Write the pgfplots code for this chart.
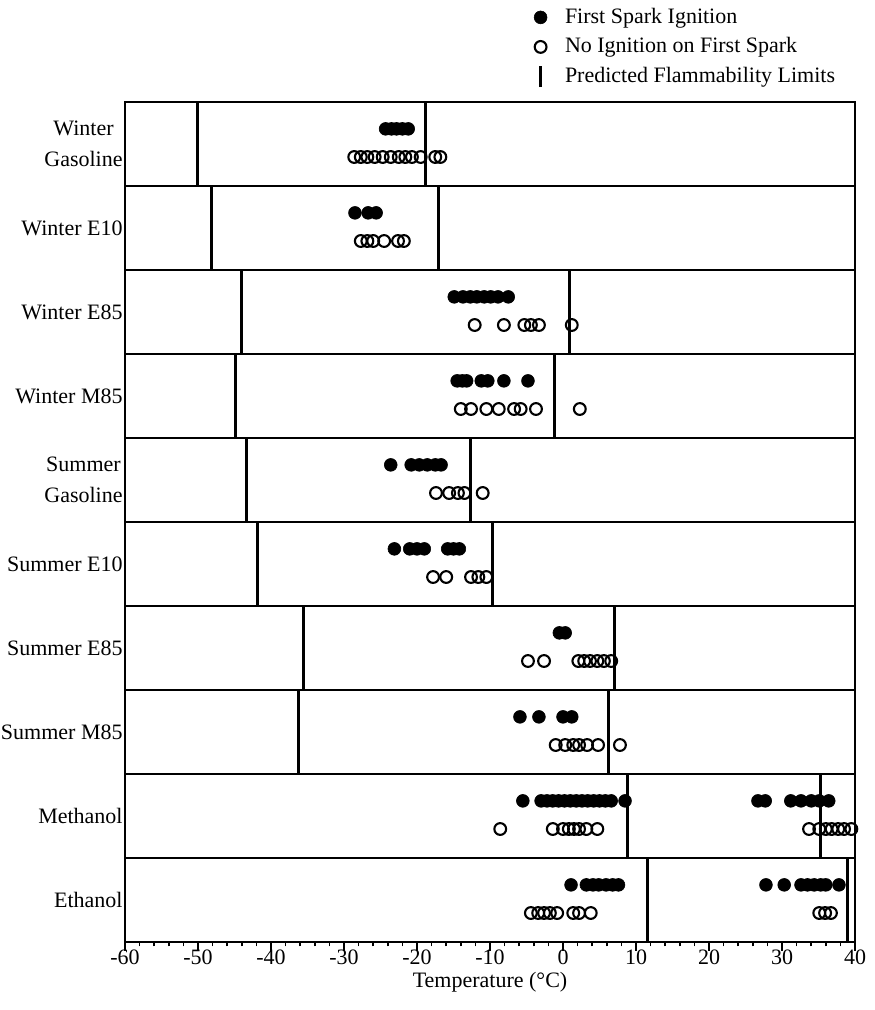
\documentclass[border=0pt]{standalone}
\usepackage{fontspec}
\setmainfont{Liberation Serif}
\usepackage{pgfplots}
\pgfplotsset{compat=1.18}
\begin{document}
\fontsize{11}{13}\selectfont
\begin{tikzpicture}
\useasboundingbox (-62.5pt,-34pt) rectangle (374.5pt,471pt);
\begin{axis}[
  at={(0,0)}, anchor=south west,
  scale only axis, width=365pt, height=420pt,
  xmin=-60, xmax=40, ymin=0, ymax=10,
  xtick={-60,-50,-40,-30,-20,-10,0,10,20,30,40},
  minor x tick num=4,
  xtick pos=bottom,
  tick align=outside,
  major tick length=4.5pt, minor tick length=2.25pt,
  xtick style={black, line width=0.8pt},
  ytick={0.5,1.5,2.5,3.5,4.5,5.5,6.5,7.5,8.5,9.5},
  yticklabels={Ethanol,Methanol,Summer M85,Summer E85,Summer E10,{Summer\\Gasoline},Winter M85,Winter E85,Winter E10,{Winter\\Gasoline}},
  ytick style={draw=none},
  yticklabel style={align=center, font=\fontsize{11}{15.5}\selectfont, inner xsep=1pt, xshift=4.5pt},
  xticklabel style={font=\fontsize{11}{13}\selectfont, inner ysep=1pt},
  xticklabel shift=-2pt,
  /pgf/number format/assume math mode=true,
  axis line style={line width=1pt},
  xlabel={Temperature (°C)},
  xlabel style={font=\fontsize{11}{13}\selectfont, inner sep=0pt, at={(axis description cs:0.5,-0.0475)}, anchor=center},
  legend style={draw=none, fill=none, at={(0.560,1.117)}, anchor=north west,
    font=\fontsize{11}{13}\selectfont, row sep=1.5pt, inner sep=0pt,
    /tikz/every odd column/.append style={column sep=7pt}},
  legend cell align=left,
  limit/.style={black, line width=1.5pt, forget plot},
]
% filled
\addplot[only marks, mark=*, mark size=3.2pt, mark options={draw=black, fill=black, line width=0.3pt}] coordinates {
(-24.3,9.68) (-23.5,9.68) (-22.8,9.68) (-22.0,9.68) (-21.2,9.68)
(-28.5,8.68) (-26.7,8.68) (-25.6,8.68)
(-14.9,7.68) (-13.7,7.68) (-12.7,7.68) (-11.8,7.68) (-10.8,7.68) (-9.9,7.68) (-8.9,7.68) (-7.5,7.68)
(-14.5,6.68) (-13.8,6.68) (-13.2,6.68) (-11.2,6.68) (-10.3,6.68) (-8.1,6.68) (-4.8,6.68)
(-23.6,5.68) (-20.8,5.68) (-19.7,5.68) (-18.6,5.68) (-17.5,5.68) (-16.7,5.68)
(-23.1,4.68) (-21.0,4.68) (-20.0,4.68) (-19.0,4.68) (-15.8,4.68) (-15.0,4.68) (-14.2,4.68)
(-0.5,3.68) (0.3,3.68)
(-5.9,2.68) (-3.3,2.68) (0.0,2.68) (1.2,2.68)
(-5.5,1.68) (-3.0,1.68) (-2.2,1.68) (-1.4,1.68) (-0.6,1.68) (0.2,1.68) (1.0,1.68) (1.8,1.68) (2.6,1.68) (3.4,1.68) (4.2,1.68) (5.0,1.68) (5.8,1.68) (6.6,1.68) (8.5,1.68)
(26.7,1.68) (27.7,1.68) (31.2,1.68) (32.6,1.68) (34.0,1.68) (35.1,1.68) (36.4,1.68)
(1.1,0.68) (3.2,0.68) (4.1,0.68) (4.9,0.68) (5.9,0.68) (6.8,0.68) (7.6,0.68)
(27.8,0.68) (30.3,0.68) (32.6,0.68) (33.5,0.68) (34.4,0.68) (35.3,0.68) (36.0,0.68) (37.8,0.68)
};
\addlegendentry{First Spark Ignition}
% open
\addplot[only marks, mark=o, mark size=2.95pt, mark options={draw=black, line width=1.05pt}] coordinates {
(-28.6,9.345) (-27.7,9.345) (-26.8,9.345) (-25.8,9.345) (-24.7,9.345) (-23.6,9.345) (-22.5,9.345) (-21.6,9.345) (-20.7,9.345) (-19.5,9.345) (-17.5,9.345) (-16.8,9.345)
(-27.7,8.345) (-26.8,8.345) (-26.0,8.345) (-24.5,8.345) (-22.6,8.345) (-21.8,8.345)
(-12.1,7.345) (-8.1,7.345) (-5.3,7.345) (-4.4,7.345) (-3.3,7.345) (1.2,7.345)
(-14.0,6.345) (-12.6,6.345) (-10.5,6.345) (-8.8,6.345) (-6.7,6.345) (-5.8,6.345) (-3.7,6.345) (2.3,6.345)
(-17.4,5.345) (-15.6,5.345) (-14.4,5.345) (-13.5,5.345) (-11.0,5.345)
(-17.8,4.345) (-16.0,4.345) (-12.6,4.345) (-11.6,4.345) (-10.5,4.345)
(-4.8,3.345) (-2.6,3.345) (2.1,3.345) (2.9,3.345) (3.7,3.345) (4.7,3.345) (5.6,3.345) (6.6,3.345)
(-1.0,2.345) (0.3,2.345) (1.4,2.345) (2.2,2.345) (3.3,2.345) (4.8,2.345) (7.8,2.345)
(-8.6,1.345) (-1.4,1.345) (0.0,1.345) (0.8,1.345) (1.5,1.345) (2.2,1.345) (3.2,1.345) (4.7,1.345)
(33.7,1.345) (35.1,1.345) (36.0,1.345) (36.8,1.345) (37.7,1.345) (38.5,1.345) (39.5,1.345)
(-4.4,0.345) (-3.4,0.345) (-2.6,0.345) (-1.8,0.345) (-0.8,0.345) (1.4,0.345) (2.2,0.345) (3.8,0.345)
(35.1,0.345) (35.9,0.345) (36.7,0.345)
};
\addlegendentry{No Ignition on First Spark}
% limits
\addplot[black, line width=1.5pt, legend image code/.code={\draw[line width=1.5pt] (0.3cm,-5.25pt) -- (0.3cm,5.25pt);}] coordinates {(-50.1,9) (-50.1,10)};
\addlegendentry{Predicted Flammability Limits}
\addplot[limit] coordinates {(-18.9,9) (-18.9,10)};
\addplot[limit] coordinates {(-48.1,8) (-48.1,9)};
\addplot[limit] coordinates {(-17.0,8) (-17.0,9)};
\addplot[limit] coordinates {(-44.1,7) (-44.1,8)};
\addplot[limit] coordinates {(0.9,7) (0.9,8)};
\addplot[limit] coordinates {(-44.8,6) (-44.8,7)};
\addplot[limit] coordinates {(-1.2,6) (-1.2,7)};
\addplot[limit] coordinates {(-43.3,5) (-43.3,6)};
\addplot[limit] coordinates {(-12.7,5) (-12.7,6)};
\addplot[limit] coordinates {(-41.8,4) (-41.8,5)};
\addplot[limit] coordinates {(-9.6,4) (-9.6,5)};
\addplot[limit] coordinates {(-35.5,3) (-35.5,4)};
\addplot[limit] coordinates {(7.1,3) (7.1,4)};
\addplot[limit] coordinates {(-36.2,2) (-36.2,3)};
\addplot[limit] coordinates {(6.2,2) (6.2,3)};
\addplot[limit] coordinates {(8.8,1) (8.8,2)};
\addplot[limit] coordinates {(35.3,1) (35.3,2)};
\addplot[limit] coordinates {(11.6,0) (11.6,1)};
\addplot[limit] coordinates {(39.0,0) (39.0,1)};
% separators
\pgfplotsinvokeforeach{1,2,3,4,5,6,7,8,9}{
  \addplot[black, line width=1pt, forget plot] coordinates {(-60,#1) (40,#1)};
}
\end{axis}
\end{tikzpicture}
\end{document}
